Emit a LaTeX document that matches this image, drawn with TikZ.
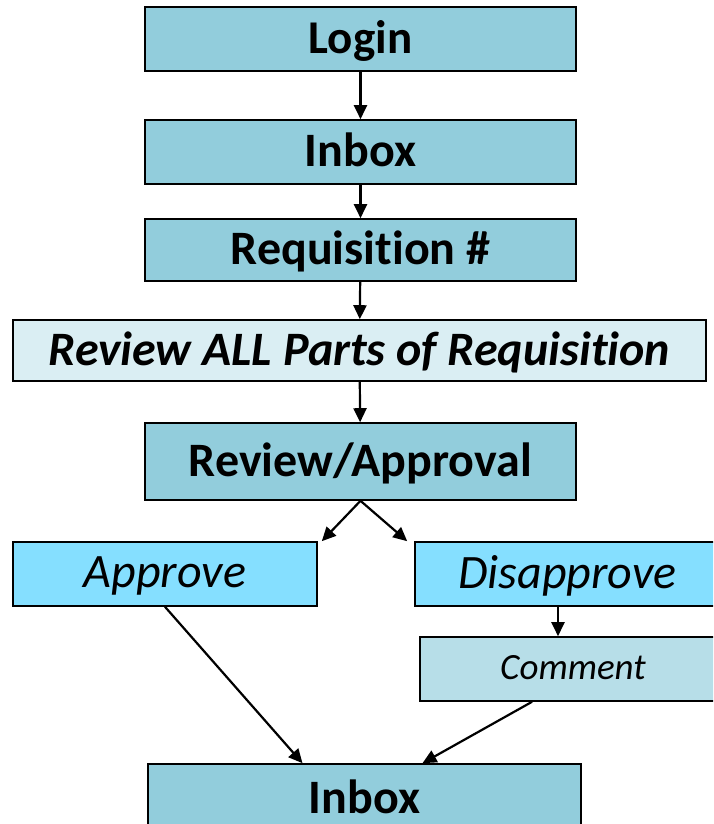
\documentclass[tikz,border=0pt]{standalone}
\usepackage{fontspec}
\setmainfont{Carlito}[RawFeature=-liga]
\usepackage{tikz}
\usetikzlibrary{positioning, calc}
\usetikzlibrary{arrows.meta}
\definecolor{stepblue}{HTML}{92CDDC}
\definecolor{paleblue}{HTML}{DAEEF3}
\definecolor{brightblue}{HTML}{85DFFF}
\definecolor{noteblue}{HTML}{B7DEE8}
\tikzstyle{stepbox}=[rectangle,draw=black,line width=1.6pt,fill=stepblue,inner sep=0pt,minimum width=431pt,minimum height=64pt,text depth=4pt,font=\fontsize{48}{52}\selectfont\bfseries]
\tikzstyle{choicebox}=[stepbox,fill=brightblue,minimum width=305pt,font=\fontsize{48}{52}\selectfont\itshape]
\tikzstyle{edgepath} = [-{Triangle[length=14pt,width=13pt]},line width=2.2pt]

\begin{document}
\begin{tikzpicture}[x=1pt,y=-1pt]
        \useasboundingbox (0,0) rectangle (713,824);
        \clip (0,0) rectangle (713,824);
        \node[stepbox, font=\fontsize{47}{51}\selectfont\bfseries] (login) at (360.5,39) {Login};
        \node[stepbox] (inbox) at (360.5,152) {Inbox};
        \node[stepbox, minimum height=62pt] (req) at (360.5,250) {Requisition \#};
        \node[stepbox, fill=paleblue, minimum width=693pt, minimum height=61pt,
              font=\fontsize{48}{52}\selectfont\bfseries\itshape] (all) at (359.5,350.5) {Review ALL Parts of Requisition};
        \node[stepbox, minimum height=77pt] (rev) at (360.5,461.5) {Review/Approval};
        \node[choicebox, minimum width=304pt] (appr) at (165,574) {Approve};
        \node[choicebox] (dis) at (567.5,574) {Disapprove};
        \node[stepbox, fill=noteblue, minimum width=306pt, text depth=3pt,
              font=\fontsize{37}{41}\selectfont\itshape] (note) at (573,669) {Comment};
        \node[stepbox, minimum width=433pt, minimum height=70pt] (inbox2) at (364.5,799) {Inbox};

        \path[edgepath]
            (login) edge (inbox)
            (inbox) edge (req)
            (req) edge (all)
            (all) edge (rev)
            (rev.south) edge ([xshift=4pt]appr.north east)
            (rev.south) edge ([xshift=-7pt]dis.north west)
            ([xshift=-9.5pt]dis.south) edge ([xshift=-15pt]note.north)
            (appr.south) edge ([xshift=-62pt]inbox2.north)
            ([xshift=-41pt]note.south) edge ([xshift=58pt]inbox2.north);
    \end{tikzpicture}
\end{document}
